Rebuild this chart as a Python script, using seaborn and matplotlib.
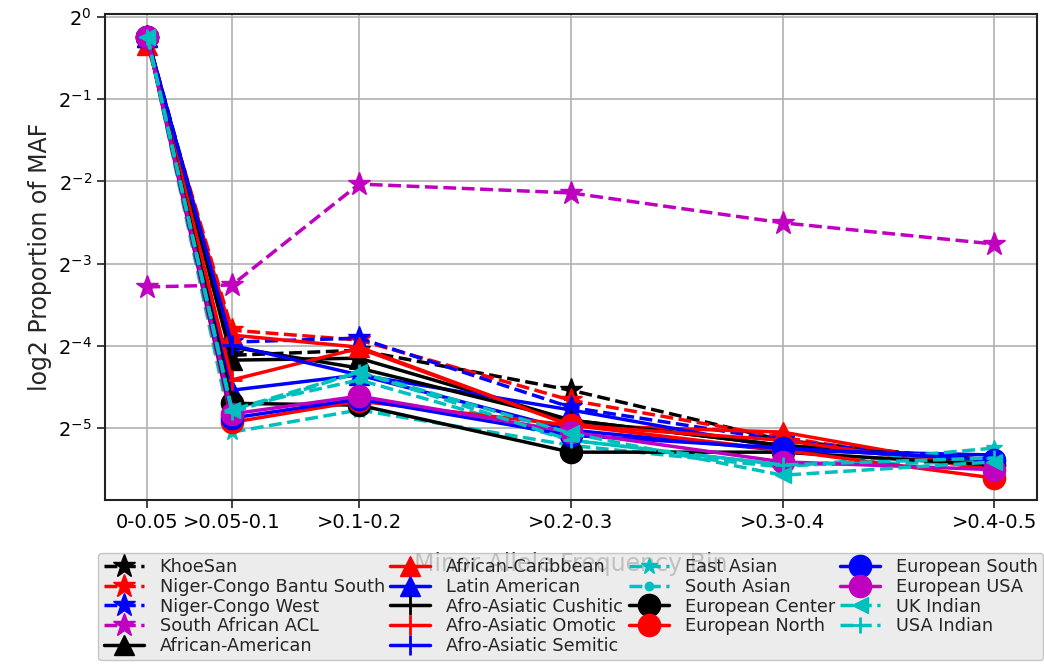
# Proportion of SNPs per minor allele frequency bin, by population (log2 y axis)

import numpy as np
import pandas as pd
import seaborn as sns
import matplotlib.pyplot as plt

bins = ['0-0.05', '>0.05-0.1', '>0.1-0.2', '>0.2-0.3', '>0.3-0.4', '>0.4-0.5']
bin_x = [0.05, 0.09, 0.15, 0.25, 0.35, 0.45]

khoesan = [0.845, 0.0577, 0.0602, 0.0430, 0.0282, 0.0235]
nc_bantu_south = [0.790, 0.0713, 0.0656, 0.0395, 0.0289, 0.0220]
nc_west = [0.845, 0.0645, 0.0667, 0.0372, 0.0282, 0.0229]
sa_acl = [0.1027, 0.1044, 0.2444, 0.2268, 0.1763, 0.1474]
african_american = [0.845, 0.0554, 0.0563, 0.0334, 0.0270, 0.0235]
african_caribbean = [0.790, 0.0684, 0.0618, 0.0320, 0.0302, 0.0220]
latin_american = [0.845, 0.0430, 0.0489, 0.0364, 0.0264, 0.0239]
aa_cushitic = [0.845, 0.0618, 0.0518, 0.0334, 0.0270, 0.0239]
aa_omotic = [0.845, 0.0469, 0.0612, 0.0320, 0.0282, 0.0220]
aa_semitic = [0.845, 0.0628, 0.0489, 0.0307, 0.0259, 0.0249]
east_asian = [0.845, 0.0302, 0.0364, 0.0270, 0.0225, 0.0264]
south_asian = [0.845, 0.0369, 0.0469, 0.0282, 0.0229, 0.0235]
eur_center = [0.845, 0.0385, 0.0379, 0.0255, 0.0255, 0.0229]
eur_north = [0.845, 0.0328, 0.0392, 0.0320, 0.0259, 0.0205]
eur_south = [0.845, 0.0340, 0.0399, 0.0294, 0.0264, 0.0239]
eur_usa = [0.845, 0.0352, 0.0409, 0.0302, 0.0235, 0.0220]
uk_indian = [0.845, 0.0364, 0.0501, 0.0299, 0.0210, 0.0235]
usa_indian = [0.845, 0.0357, 0.0501, 0.0282, 0.0229, 0.0243]

# (label, values, color, marker, linestyle, markersize)
series = [
    ('KhoeSan', khoesan, 'k', '*', '--', 17),
    ('Niger-Congo Bantu South', nc_bantu_south, 'r', '*', '--', 17),
    ('Niger-Congo West', nc_west, 'b', '*', '--', 17),
    ('South African ACL', sa_acl, 'm', '*', '--', 17),
    ('African-American', african_american, 'k', '^', '-', 14),
    ('African-Caribbean', african_caribbean, 'r', '^', '-', 14),
    ('Latin American', latin_american, 'b', '^', '-', 14),
    ('Afro-Asiatic Cushitic', aa_cushitic, 'k', '+', '-', 14),
    ('Afro-Asiatic Omotic', aa_omotic, 'r', '+', '-', 14),
    ('Afro-Asiatic Semitic', aa_semitic, 'b', '+', '-', 14),
    ('East Asian', east_asian, 'c', '*', '--', 12),
    ('South Asian', south_asian, 'c', '.', '--', 12),
    ('European Center', eur_center, 'k', 'o', '-', 16),
    ('European North', eur_north, 'r', 'o', '-', 16),
    ('European South', eur_south, 'b', 'o', '-', 16),
    ('European USA', eur_usa, 'm', 'o', '-', 16),
    ('UK Indian', uk_indian, 'c', '<', '--', 12),
    ('USA Indian', usa_indian, 'c', '+', '--', 12),
]

sns.set_style('ticks')

fig, ax = plt.subplots(figsize=(10.44, 6.65), dpi=100)
fig.subplots_adjust(left=0.1006, right=0.993, top=0.979, bottom=0.248)

for label, vals, col, mk, ls, ms in series:
    sns.lineplot(x=bin_x, y=vals, ax=ax, color=col, marker=mk, linestyle=ls,
                 markersize=ms, linewidth=2.5, markeredgecolor=col,
                 markeredgewidth=2 if mk == '+' else 1, label=label, sort=False)

ax.set_yscale('log', base=2)
ax.set_ylim(2 ** -5.876, 2 ** 0.036)
ax.set_xticks(bin_x, bins)
ax.grid(True, color='#b0b0b0', linewidth=1.2)
for s in ax.spines.values():
    s.set_color('#222222')
    s.set_linewidth(1.5)
ax.tick_params(labelsize=14, length=6, width=1.2, color='#222222', labelcolor='black')
ax.tick_params(axis='y', labelsize=14)

ax.set_ylabel('log2 Proportion of MAF', fontsize=17)
ax.set_xlabel('Minor Allele Frequency Bin', fontsize=17, labelpad=14)

leg = ax.legend(loc='upper center', bbox_to_anchor=(0.5, -0.09), ncol=4,
                fontsize=12.8, labelspacing=0.1, columnspacing=0.3,
                handlelength=2.25, handletextpad=0.9, borderpad=0.3,
                frameon=True, fancybox=True)
leg.get_frame().set_facecolor('#e8e8e8')
leg.get_frame().set_edgecolor('#bbbbbb')
leg.get_frame().set_alpha(0.8)

plt.savefig('out.png', dpi=100)
